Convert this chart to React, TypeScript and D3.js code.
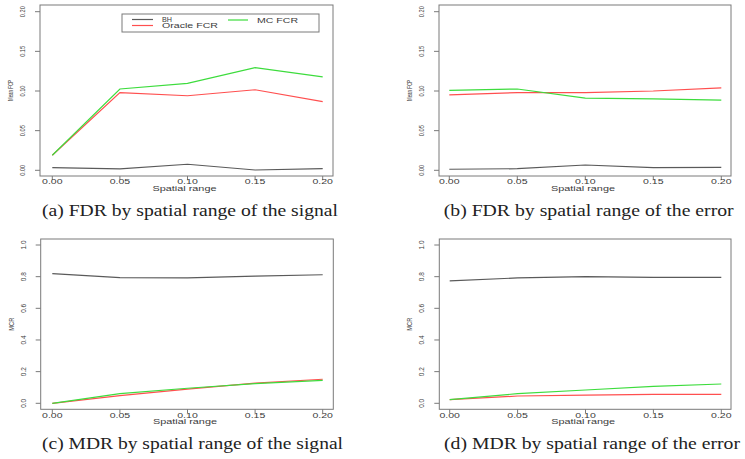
import React from "react";
import * as d3 from "d3";

const xValues = [0, 0.05, 0.1, 0.15, 0.2];
const xTickLabels = ["0.00", "0.05", "0.10", "0.15", "0.20"];
const fdrTicks = [0, 0.05, 0.1, 0.15, 0.2];
const fdrTickLabels = ["0.00", "0.05", "0.10", "0.15", "0.20"];
const mdrTicks = [0, 0.2, 0.4, 0.6, 0.8, 1.0];
const mdrTickLabels = ["0.0", "0.2", "0.4", "0.6", "0.8", "1.0"];

const seriesNames = ["BH", "Oracle FCR", "MC FCR"];
const seriesColors = ["#5a5a5a", "#ff4f4f", "#3ddc3d"];

// (a) FDR by spatial range of the signal
const aBH = [0.0034, 0.0017, 0.0076, 0.0004, 0.0021];
const aOracle = [0.019, 0.098, 0.094, 0.1016, 0.0866];
const aMC = [0.019, 0.1025, 0.1096, 0.1295, 0.1177];
// (b) FDR by spatial range of the error
const bBH = [0.0013, 0.002, 0.0067, 0.0033, 0.0038];
const bOracle = [0.095, 0.098, 0.098, 0.1, 0.104];
const bMC = [0.1008, 0.1025, 0.091, 0.09, 0.0886];
// (c) MDR by spatial range of the signal
const cBH = [0.819, 0.794, 0.792, 0.804, 0.812];
const cOracle = [0.0, 0.048, 0.09, 0.128, 0.152];
const cMC = [0.0, 0.061, 0.095, 0.124, 0.145];
// (d) MDR by spatial range of the error
const dBH = [0.773, 0.792, 0.8, 0.796, 0.796];
const dOracle = [0.023, 0.046, 0.052, 0.057, 0.057];
const dMC = [0.023, 0.061, 0.084, 0.107, 0.122];

const captions = [
  "(a) FDR by spatial range of the signal",
  "(b) FDR by spatial range of the error",
  "(c) MDR by spatial range of the signal",
  "(d) MDR by spatial range of the error",
];

type PanelProps = {
  box: [number, number, number, number]; // x0, y0, x1, y1
  xr: [number, number];
  yr: [number, number];
  yDomain: [number, number];
  yTicks: number[];
  yTickLabels: string[];
  yLabel: string;
  yLabelLen: number;
  series: number[][];
  caption: string;
  capX: number;
  capY: number;
  capLen: number;
  legend?: boolean;
};

const sans = "Liberation Sans, Arial, Helvetica, sans-serif";

function Panel(p: PanelProps) {
  const [x0, y0, x1, y1] = p.box;
  const x = d3.scaleLinear().domain([0, 0.2]).range(p.xr);
  const y = d3.scaleLinear().domain(p.yDomain).range(p.yr);
  const line = d3
    .line<number>()
    .x((_, i) => x(xValues[i]))
    .y((v) => y(v));
  const axisColor = "#7a7a7a";
  const txt = "#3a3a3a";
  return (
    <g>
      <rect x={x0} y={y0} width={x1 - x0} height={y1 - y0} fill="none" stroke={axisColor} strokeWidth={1} />
      {xValues.map((v, i) => (
        <g key={"xt" + i}>
          <line x1={x(v)} x2={x(v)} y1={y1} y2={y1 + 4} stroke={axisColor} />
          <text
            x={x(v)}
            y={y1 + 8.2}
            fontSize={6.3}
            textAnchor="middle"
            fontFamily={sans}
            fill={txt}
            textLength={20.5}
            lengthAdjust="spacingAndGlyphs"
          >
            {xTickLabels[i]}
          </text>
        </g>
      ))}
      <text
        x={(x0 + x1) / 2 - 2}
        y={y1 + 14.6}
        fontSize={6.5}
        textAnchor="middle"
        fontFamily={sans}
        fill={txt}
        textLength={64}
        lengthAdjust="spacingAndGlyphs"
      >
        Spatial range
      </text>
      {p.yTicks.map((v, i) => (
        <g key={"yt" + i}>
          <line x1={x0 - 5} x2={x0} y1={y(v)} y2={y(v)} stroke={axisColor} />
          <text
            transform={`translate(${x0 - 15},${y(v)}) rotate(-90)`}
            fontSize={7}
            textAnchor="middle"
            fontFamily={sans}
            fill={txt}
            textLength={p.yTickLabels[i].length === 4 ? 11 : 9}
            lengthAdjust="spacingAndGlyphs"
          >
            {p.yTickLabels[i]}
          </text>
        </g>
      ))}
      <text
        transform={`translate(${x0 - 27},${(y0 + y1) / 2}) rotate(-90)`}
        fontSize={7.5}
        textAnchor="middle"
        fontFamily={sans}
        fill={txt}
        textLength={p.yLabelLen}
        lengthAdjust="spacingAndGlyphs"
      >
        {p.yLabel}
      </text>
      {p.series.map((s, i) => (
        <path key={"s" + i} d={line(s) || ""} fill="none" stroke={seriesColors[i]} strokeWidth={1.2} />
      ))}
      {p.legend && (
        <g>
          <rect x={122} y={14} width={197} height={18} fill="white" stroke={axisColor} />
          <line x1={132} x2={153} y1={19.5} y2={19.5} stroke={seriesColors[0]} strokeWidth={1.2} />
          <text x={162} y={22} fontSize={6.3} fontFamily={sans} fill={txt} textLength={10} lengthAdjust="spacingAndGlyphs">{seriesNames[0]}</text>
          <line x1={132} x2={153} y1={25.5} y2={25.5} stroke={seriesColors[1]} strokeWidth={1.2} />
          <text x={162} y={28} fontSize={6.3} fontFamily={sans} fill={txt} textLength={56} lengthAdjust="spacingAndGlyphs">{seriesNames[1]}</text>
          <line x1={228} x2={248} y1={20} y2={20} stroke={seriesColors[2]} strokeWidth={1.2} />
          <text x={257} y={22.5} fontSize={6.3} fontFamily={sans} fill={txt} textLength={41} lengthAdjust="spacingAndGlyphs">{seriesNames[2]}</text>
        </g>
      )}
      <text
        x={p.capX}
        y={p.capY}
        fontSize={16.5}
        textAnchor="middle"
        fontFamily="Liberation Serif, Times New Roman, serif"
        fill="#222"
        textLength={p.capLen}
        lengthAdjust="spacingAndGlyphs"
      >
        {p.caption}
      </text>
    </g>
  );
}

export default function App() {
  return (
    <svg width={745} height={459} style={{ position: "absolute", left: 0, top: 0, background: "white" }}>
      <rect x={0} y={0} width={745} height={459} fill="white" />
      <Panel
        box={[40, 5, 333, 176]}
        xr={[52.3, 322.7]}
        yr={[170.3, 11.7]}
        yDomain={[0, 0.2]}
        yTicks={fdrTicks}
        yTickLabels={fdrTickLabels}
        yLabel="Mean FCP"
        yLabelLen={21}
        series={[aBH, aOracle, aMC]}
        caption={captions[0]}
        capX={190}
        capY={216}
        capLen={296}
        legend
      />
      <Panel
        box={[439, 5, 731, 176]}
        xr={[449.3, 721.3]}
        yr={[170.3, 11.7]}
        yDomain={[0, 0.2]}
        yTicks={fdrTicks}
        yTickLabels={fdrTickLabels}
        yLabel="Mean FCP"
        yLabelLen={21}
        series={[bBH, bOracle, bMC]}
        caption={captions[1]}
        capX={588.7}
        capY={216}
        capLen={290}
      />
      <Panel
        box={[40.7, 239, 333.3, 409.3]}
        xr={[52.3, 322.7]}
        yr={[403.3, 245]}
        yDomain={[0, 1]}
        yTicks={mdrTicks}
        yTickLabels={mdrTickLabels}
        yLabel="MCR"
        yLabelLen={13}
        series={[cBH, cOracle, cMC]}
        caption={captions[2]}
        capX={192.5}
        capY={449}
        capLen={301}
      />
      <Panel
        box={[439.3, 239, 731, 409.3]}
        xr={[449.7, 721.3]}
        yr={[403.3, 245]}
        yDomain={[0, 1]}
        yTicks={mdrTicks}
        yTickLabels={mdrTickLabels}
        yLabel="MCR"
        yLabelLen={13}
        series={[dBH, dOracle, dMC]}
        caption={captions[3]}
        capX={592}
        capY={449}
        capLen={296}
      />
    </svg>
  );
}
